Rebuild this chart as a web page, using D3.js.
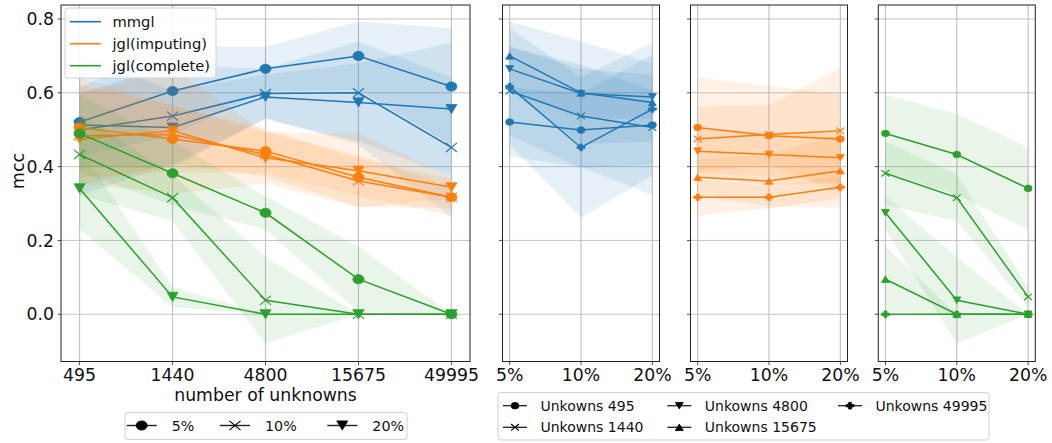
<!DOCTYPE html>
<html>
<head>
<meta charset="utf-8">
<script src="https://cdn.jsdelivr.net/npm/d3@7"></script>
<style>
  html, body { margin: 0; padding: 0; background: #fff; }
  svg { display: block; font-family: "DejaVu Sans", sans-serif; }
</style>
</head>
<body>
<svg id="chart" width="1052" height="443"></svg>
<script>
// ---------------- data ----------------
const unknowns = ["495", "1440", "4800", "15675", "49995"];
const pcts = ["5%", "10%", "20%"];
const methods = ["mmgl", "jgl(imputing)", "jgl(complete)"];
const yTicks = [0.0, 0.2, 0.4, 0.6, 0.8];

// mean[unknownIndex][pctIndex]
const mmglMean = [
  [0.521, 0.499, 0.513],
  [0.605, 0.537, 0.506],
  [0.665, 0.598, 0.589],
  [0.700, 0.600, 0.574],
  [0.617, 0.452, 0.556]
];
const mmglSd = [
  [0.094, 0.100, 0.190],
  [0.120, 0.140, 0.100],
  [0.060, 0.067, 0.060],
  [0.093, 0.139, 0.106],
  [0.158, 0.190, 0.180]
];
const jglImpMean = [
  [0.506, 0.484, 0.475],
  [0.475, 0.487, 0.497],
  [0.442, 0.433, 0.424],
  [0.371, 0.361, 0.389],
  [0.317, 0.317, 0.344]
];
const jglImpSd = [
  [0.135, 0.135, 0.120],
  [0.090, 0.080, 0.170],
  [0.060, 0.060, 0.070],
  [0.050, 0.070, 0.100],
  [0.050, 0.030, 0.030]
];
const jglCompMean = [
  [0.490, 0.433, 0.341],
  [0.382, 0.316, 0.047],
  [0.275, 0.038, 0.000],
  [0.095, 0.000, 0.000],
  [0.000, 0.000, 0.000]
];
const jglCompSd = [
  [0.104, 0.110, 0.110],
  [0.086, 0.063, 0.027],
  [0.045, 0.117, 0.000],
  [0.088, 0.000, 0.000],
  [0.000, 0.000, 0.000]
];

const means = [mmglMean, jglImpMean, jglCompMean];
const sds = [mmglSd, jglImpSd, jglCompSd];
const colors = ["#1f77b4", "#ff7f0e", "#2ca02c"];
const pctMarkers = ["circle", "x", "tridown"];
const unkMarkers = ["circle", "x", "tridown", "triup", "plus"];

// ---------------- layout ----------------
const svg = d3.select("#chart");
const yTop = 5, yBottom = 361.5;
const y = d3.scaleLinear().domain([-0.128, 0.838]).range([yBottom, yTop]);
const gridColor = "#c4c4c4";
const tickFont = 17.3;

function markerPath(type, s) {
  const sx = 1.2 * s, sy = s;
  switch (type) {
    case "circle":
      return `M${-sx},0 A${sx},${sy} 0 1,0 ${sx},0 A${sx},${sy} 0 1,0 ${-sx},0 Z`;
    case "x":
      return `M${-sx},${-sy} L${sx},${sy} M${-sx},${sy} L${sx},${-sy}`;
    case "tridown":
      return `M${-sx},${-sy} L${sx},${-sy} L0,${sy} Z`;
    case "triup":
      return `M${-sx},${sy} L${sx},${sy} L0,${-sy} Z`;
    case "plus": {
      const a = sx, b = sy, wa = sx * 0.36, wb = sy * 0.36;
      return `M${-wa},${-b} L${wa},${-b} L${wa},${-wb} L${a},${-wb} L${a},${wb} L${wa},${wb} L${wa},${b} L${-wa},${b} L${-wa},${wb} L${-a},${wb} L${-a},${-wb} L${-wa},${-wb} Z`;
    }
  }
}
function drawMarker(g, type, cx, cy, s, color) {
  const p = g.append("path").attr("d", markerPath(type, s))
    .attr("transform", `translate(${cx},${cy})`);
  if (type === "x") p.attr("fill", "none").attr("stroke", color).attr("stroke-width", 1.2);
  else p.attr("fill", color).attr("stroke", color).attr("stroke-width", 0.8);
}

const panels = [
  { x0: 61, w: 409, cats: unknowns, kind: "main" },
  { x0: 502.5, w: 157, cats: pcts, kind: "m", mi: 0 },
  { x0: 690.5, w: 157, cats: pcts, kind: "m", mi: 1 },
  { x0: 878.3, w: 157, cats: pcts, kind: "m", mi: 2 }
];

panels.forEach((p, pi) => {
  const pad = p.w * 0.05 / 1.1;
  const x = d3.scalePoint().domain(p.cats).range([p.x0 + pad, p.x0 + p.w - pad]);
  const g = svg.append("g");
  const clipId = "clip" + pi;
  svg.append("clipPath").attr("id", clipId).append("rect")
    .attr("x", p.x0).attr("y", yTop).attr("width", p.w).attr("height", yBottom - yTop);

  // grid
  const grid = g.append("g");
  grid.selectAll("line.h").data(yTicks).join("line")
    .attr("x1", p.x0).attr("x2", p.x0 + p.w)
    .attr("y1", d => y(d)).attr("y2", d => y(d))
    .attr("stroke", gridColor).attr("stroke-width", 1);
  grid.selectAll("line.v").data(p.cats).join("line")
    .attr("x1", d => x(d)).attr("x2", d => x(d))
    .attr("y1", yTop).attr("y2", yBottom)
    .attr("stroke", gridColor).attr("stroke-width", 1.2);

  const plot = g.append("g").attr("clip-path", `url(#${clipId})`);
  const ms = p.kind === "main" ? 4.6 : 3.3;

  const seriesList = [];
  if (p.kind === "main") {
    methods.forEach((m, mi) => {
      pcts.forEach((pc, ci) => {
        seriesList.push({
          color: colors[mi], marker: pctMarkers[ci],
          pts: unknowns.map((u, ui) => ({ c: u, v: means[mi][ui][ci], s: sds[mi][ui][ci] }))
        });
      });
    });
  } else {
    const mi = p.mi;
    unknowns.forEach((u, ui) => {
      seriesList.push({
        color: colors[mi], marker: unkMarkers[ui],
        pts: pcts.map((pc, ci) => ({ c: pc, v: means[mi][ui][ci], s: sds[mi][ui][ci] }))
      });
    });
  }

  const area = d3.area().x(d => x(d.c)).y0(d => y(d.v - d.s)).y1(d => y(d.v + d.s));
  const line = d3.line().x(d => x(d.c)).y(d => y(d.v));
  const byColor = d3.groups(seriesList, s => s.color);
  byColor.forEach(([col, list]) => {
    list.forEach(s => {
      plot.append("path").attr("d", area(s.pts)).attr("fill", col).attr("fill-opacity", 0.11);
    });
    list.forEach(s => {
      plot.append("path").attr("d", line(s.pts)).attr("fill", "none")
        .attr("stroke", col).attr("stroke-width", 1.5);
      s.pts.forEach(d => drawMarker(plot, s.marker, x(d.c), y(d.v), ms, col));
    });
  });

  // spines
  g.append("rect").attr("x", p.x0).attr("y", yTop).attr("width", p.w).attr("height", yBottom - yTop)
    .attr("fill", "none").attr("stroke", "#222").attr("stroke-width", 1);

  // y ticks
  g.selectAll("line.yt").data(yTicks).join("line")
    .attr("x1", p.x0 - 3.5).attr("x2", p.x0).attr("y1", d => y(d)).attr("y2", d => y(d))
    .attr("stroke", "#222").attr("stroke-width", 0.8);
  if (p.kind === "main") {
    g.selectAll("text.yl").data(yTicks).join("text")
      .attr("x", p.x0 - 7).attr("y", d => y(d)).attr("dy", "0.35em")
      .attr("text-anchor", "end").attr("font-size", tickFont).attr("fill", "#111")
      .text(d => d.toFixed(1));
  }
  // x ticks
  g.selectAll("line.xt").data(p.cats).join("line")
    .attr("x1", d => x(d)).attr("x2", d => x(d)).attr("y1", yBottom).attr("y2", yBottom + 3.5)
    .attr("stroke", "#222").attr("stroke-width", 0.8);
  g.selectAll("text.xl").data(p.cats).join("text")
    .attr("x", d => x(d)).attr("y", 380.5)
    .attr("text-anchor", "middle").attr("font-size", tickFont).attr("fill", "#111")
    .text(d => d);
});

// axis titles
svg.append("text").attr("x", panels[0].x0 + panels[0].w / 2).attr("y", 400.5)
  .attr("text-anchor", "middle").attr("font-size", tickFont).attr("fill", "#111")
  .text("number of unknowns");
svg.append("text").attr("transform", "translate(24,171) rotate(-90)")
  .attr("text-anchor", "middle").attr("font-size", tickFont).attr("fill", "#111")
  .text("mcc");

// ---------------- legends ----------------
function legendBox(x0, y0, w, h) {
  svg.append("rect").attr("x", x0).attr("y", y0).attr("width", w).attr("height", h)
    .attr("rx", 3).attr("fill", "#fff").attr("fill-opacity", 0.85)
    .attr("stroke", "#d0d0d0").attr("stroke-width", 1);
}
legendBox(65, 8, 151, 70);
methods.forEach((m, i) => {
  const yy = 21.7 + i * 22;
  svg.append("line").attr("x1", 70).attr("x2", 101).attr("y1", yy).attr("y2", yy)
    .attr("stroke", colors[i]).attr("stroke-width", 1.6);
  svg.append("text").attr("x", 112.5).attr("y", yy).attr("dy", "0.35em")
    .attr("font-size", 14.7).attr("fill", "#111").text(m);
});
legendBox(125, 412.5, 282, 27);
const pctLegX = [141.7, 235, 342.3];
pcts.forEach((pc, i) => {
  const cx = pctLegX[i], yy = 425.5;
  svg.append("line").attr("x1", cx - 15).attr("x2", cx + 15).attr("y1", yy).attr("y2", yy)
    .attr("stroke", "#222").attr("stroke-width", 1.4);
  drawMarker(svg, pctMarkers[i], cx, yy, 4.6, "#000");
  svg.append("text").attr("x", cx + 30).attr("y", yy).attr("dy", "0.35em")
    .attr("font-size", 14.3).attr("fill", "#111").text(pc);
});
legendBox(498, 392.5, 491, 47.5);
const unkLegPos = [[515, 405.7], [515, 427.3], [679.3, 405.7], [679.3, 427.3], [850, 405.7]];
unknowns.forEach((u, i) => {
  const [cx, yy] = unkLegPos[i];
  svg.append("line").attr("x1", cx - 12).attr("x2", cx + 12).attr("y1", yy).attr("y2", yy)
    .attr("stroke", "#222").attr("stroke-width", 1.3);
  drawMarker(svg, unkMarkers[i], cx, yy, 3.3, "#000");
  svg.append("text").attr("x", cx + 25.5).attr("y", yy).attr("dy", "0.35em")
    .attr("font-size", 14).attr("fill", "#111").text("Unkowns " + u);
});
</script>
</body>
</html>
